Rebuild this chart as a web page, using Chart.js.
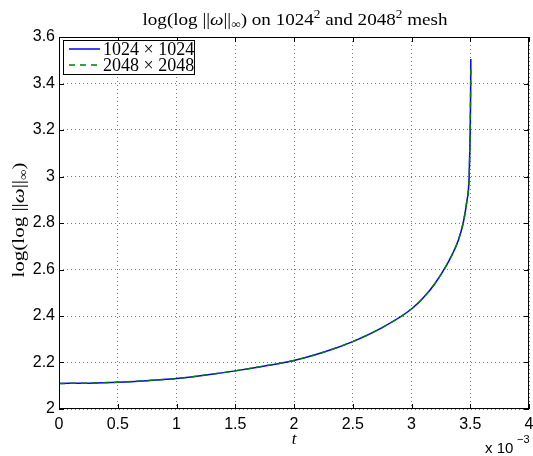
<!DOCTYPE html>
<html>
<head>
<meta charset="utf-8">
<script src="https://cdn.jsdelivr.net/npm/chart.js@4/dist/chart.umd.min.js"></script>
<style>
html,body{margin:0;padding:0;background:#fff;}
#wrap{width:533px;height:456px;position:relative;}
</style>
</head>
<body>
<div id="wrap"><canvas id="c" width="533" height="456"></canvas></div>
<script>
// time in units of 1e-3
const tValues = [0, 0.25, 0.5, 0.75, 1.0, 1.25, 1.5, 1.75, 2.0, 2.25, 2.5, 2.75, 3.0, 3.1, 3.2, 3.3, 3.35, 3.4, 3.44, 3.47, 3.49, 3.497, 3.5, 3.503, 3.505];
const series1024 = [2.110, 2.111, 2.115, 2.122, 2.131, 2.146, 2.164, 2.185, 2.209, 2.244, 2.290, 2.350, 2.430, 2.478, 2.540, 2.620, 2.668, 2.728, 2.800, 2.890, 2.990, 3.130, 3.220, 3.360, 3.505];
const series2048 = [2.110, 2.111, 2.115, 2.122, 2.131, 2.146, 2.164, 2.185, 2.209, 2.244, 2.290, 2.350, 2.430, 2.478, 2.540, 2.620, 2.668, 2.728, 2.800, 2.890, 2.990, 3.130, 3.220, 3.360, 3.460];
const seriesLabels = ['1024 \u00d7 1024', '2048 \u00d7 2048'];
const xTicks = [0, 0.5, 1, 1.5, 2, 2.5, 3, 3.5, 4];
const yTicks = [2, 2.2, 2.4, 2.6, 2.8, 3, 3.2, 3.4, 3.6];

const pts = (ys) => tValues.map((t, i) => ({x: t, y: ys[i]}));

const SERIF = '"Liberation Serif", "DejaVu Serif", serif';
const SANS = '"Liberation Sans", Arial, sans-serif';

const titleRuns = [['log(log ', 'n'], ['||', 'n'], ['\u03c9', 'i'], ['||', 'n'], ['\u221e', 'sub'], [') on 1024', 'n'], ['2', 'sup'], [' and 2048', 'n'], ['2', 'sup'], [' mesh', 'n']];
const yTitleRuns = [['log(log ', 'n'], ['||', 'n'], ['\u03c9', 'i'], ['||', 'n'], ['\u221e', 'sub'], [')', 'n']];

function runFont(style, size) {
  if (style === 'i') return 'italic ' + size + 'px ' + SERIF;
  if (style === 'sub' || style === 'sup') return (size * 0.7).toFixed(1) + 'px ' + SERIF;
  return size + 'px ' + SERIF;
}
function runsWidth(ctx, runs, size) {
  let total = 0;
  runs.forEach(([t, s]) => { ctx.font = runFont(s, size); total += ctx.measureText(t).width; });
  return total;
}
function drawRich(ctx, runs, cx, cy, size, targetW) {
  const total = runsWidth(ctx, runs, size);
  const sx = targetW ? targetW / total : 1;
  ctx.save();
  ctx.translate(cx - total * sx / 2, cy + size * 0.33);
  ctx.scale(sx, 1);
  ctx.textAlign = 'left';
  ctx.textBaseline = 'alphabetic';
  let x = 0;
  runs.forEach(([t, s]) => {
    ctx.font = runFont(s, size);
    let dy = 0;
    if (s === 'sub') dy = size * 0.22;
    if (s === 'sup') dy = -size * 0.38;
    ctx.fillText(t, x, dy);
    x += ctx.measureText(t).width;
  });
  ctx.restore();
}

const decor = {
  id: 'decor',
  afterDraw(chart) {
    const ctx = chart.ctx;
    const a = chart.chartArea;
    ctx.save();
    ctx.strokeStyle = '#000';
    ctx.lineWidth = 1;
    ctx.strokeRect(a.left + 0.5, a.top + 0.5, a.right - a.left - 1, a.bottom - a.top - 1);
    const xs = chart.scales.x, ys = chart.scales.y;
    ctx.beginPath();
    xTicks.forEach(v => {
      const px = Math.round(xs.getPixelForValue(v)) + 0.5;
      ctx.moveTo(px, a.bottom); ctx.lineTo(px, a.bottom - 5);
      ctx.moveTo(px, a.top); ctx.lineTo(px, a.top + 5);
    });
    yTicks.forEach(v => {
      const py = Math.round(ys.getPixelForValue(v)) + 0.5;
      ctx.moveTo(a.left, py); ctx.lineTo(a.left + 5, py);
      ctx.moveTo(a.right, py); ctx.lineTo(a.right - 5, py);
    });
    ctx.stroke();

    ctx.fillStyle = '#000';
    drawRich(ctx, titleRuns, 295, 19, 17, 305);

    ctx.save();
    ctx.translate(18, 220);
    ctx.rotate(-Math.PI / 2);
    drawRich(ctx, yTitleRuns, 0, 0, 17, 115);
    ctx.restore();

    ctx.font = 'italic 17px ' + SERIF;
    ctx.textAlign = 'center';
    ctx.textBaseline = 'middle';
    ctx.fillText('t', 294, 440);

    ctx.font = '15px ' + SANS;
    ctx.textAlign = 'left';
    ctx.fillText('x 10', 485, 449);
    ctx.font = '11px ' + SANS;
    ctx.fillText('\u22123', 517, 440);

    // legend
    const lx = 63, ly = 40, lw = 131, lh = 34;
    ctx.fillStyle = '#fff';
    ctx.fillRect(lx, ly, lw, lh);
    ctx.strokeStyle = '#000';
    ctx.lineWidth = 1;
    ctx.strokeRect(lx + 0.5, ly + 0.5, lw, lh);
    chart.data.datasets.forEach((ds, i) => {
      const y = ly + 9 + i * 16;
      ctx.beginPath();
      ctx.strokeStyle = ds.borderColor;
      ctx.lineWidth = 1.5;
      ctx.setLineDash(ds.borderDash || []);
      ctx.moveTo(lx + 6, y);
      ctx.lineTo(lx + 37, y);
      ctx.stroke();
      ctx.setLineDash([]);
      ctx.fillStyle = '#000';
      ctx.font = '18px ' + SERIF;
      ctx.textAlign = 'left';
      ctx.textBaseline = 'middle';
      ctx.fillText(ds.label, lx + 40, y + 1);
    });
    ctx.restore();
  }
};

const fmt = (v) => String(Math.round(v * 10) / 10);

new Chart(document.getElementById('c'), {
  type: 'line',
  data: {
    datasets: [
      {label: seriesLabels[0], data: pts(series1024), borderColor: '#0000ff', borderWidth: 1.5, pointRadius: 0, fill: false, cubicInterpolationMode: 'monotone', order: 1},
      {label: seriesLabels[1], data: pts(series2048), borderColor: '#008000', borderWidth: 1.5, borderDash: [6, 5], pointRadius: 0, fill: false, cubicInterpolationMode: 'monotone', order: 0}
    ]
  },
  options: {
    responsive: false,
    animation: false,
    layout: {padding: {top: 37, right: 4, left: 0, bottom: 0}},
    plugins: {legend: {display: false}, title: {display: false}, tooltip: {enabled: false}},
    scales: {
      x: {
        type: 'linear', min: 0, max: 4,
        afterBuildTicks: (s) => { s.ticks = xTicks.map(v => ({value: v})); },
        afterFit: (s) => { s.height = 47; s.paddingLeft = 0; s.paddingRight = 0; },
        ticks: {color: '#000', font: {family: SANS, size: 16}, padding: 6, maxRotation: 0, autoSkip: false, callback: fmt},
        grid: {color: '#555', lineWidth: 0.8, drawTicks: false},
        border: {display: false, dash: [1, 3]}
      },
      y: {
        type: 'linear', min: 2, max: 3.6,
        afterBuildTicks: (s) => { s.ticks = yTicks.map(v => ({value: v})); },
        afterFit: (s) => { s.width = 59; s.paddingTop = 0; s.paddingBottom = 0; },
        ticks: {color: '#000', font: {family: SANS, size: 16}, padding: 4, autoSkip: false, callback: fmt},
        grid: {color: '#555', lineWidth: 0.8, drawTicks: false},
        border: {display: false, dash: [1, 3]}
      }
    }
  },
  plugins: [decor]
});
</script>
</body>
</html>
